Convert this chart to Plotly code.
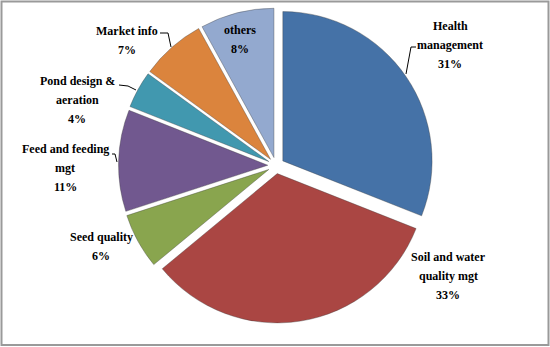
import plotly.graph_objects as go

# Share of training needs by topic (percent)
topics = ["Health management", "Soil and water quality mgt", "Seed quality",
          "Feed and feeding mgt", "Pond design & aeration", "Market info", "others"]
shares = [31, 33, 6, 11, 4, 7, 8]
colors = ["#4572A7", "#AA4643", "#89A54E", "#71588F", "#4198AF", "#DB843D", "#93A9CF"]

W, H = 550, 347


def px(x, y):
    """Convert pixel position to paper coordinates."""
    return x / W, 1 - y / H


# Pie box: centre (276, 165), side 315 px
cx_pie, cy_pie, side = 276, 165.5, 315
dx0, dy1 = px(cx_pie - side / 2, cy_pie - side / 2)
dx1, dy0 = px(cx_pie + side / 2, cy_pie + side / 2)

fig = go.Figure(go.Pie(
    labels=topics,
    values=shares,
    sort=False,
    direction="clockwise",
    rotation=0,
    pull=[0.055] * len(shares),
    marker=dict(colors=colors, line=dict(color="rgba(60,60,60,0.45)", width=0.8)),
    textinfo="none",
    hoverinfo="label+percent",
    domain=dict(x=[dx0, dx1], y=[dy0, dy1]),
    showlegend=False,
))

total = sum(shares)
pct = {t: f"{round(v / total * 100)}%" for t, v in zip(topics, shares)}

# Label text split into lines, with the centre of the first line (pixels)
label_lines = {
    "Health management": (["Health", "management"], (450, 26)),
    "Soil and water quality mgt": (["Soil and water", "quality mgt"], (448, 257)),
    "Seed quality": (["Seed quality"], (101, 237)),
    "Feed and feeding mgt": (["Feed and feeding", "mgt"], (65, 149)),
    "Pond design & aeration": (["Pond design &", "aeration"], (77, 81)),
    "Market info": (["Market info"], (127, 31)),
    "others": (["others"], (240, 30)),
}
line_gap = 18.8

annotations = []
for t in topics:
    lines, (cx, cy) = label_lines[t]
    for i, txt in enumerate(lines + [pct[t]]):
        x, y = px(cx, cy + i * line_gap)
        annotations.append(dict(
            x=x, y=y, xref="paper", yref="paper",
            text="<b>" + txt.replace("&", "&amp;") + "</b>",
            showarrow=False, xanchor="center", yanchor="middle",
            font=dict(family="Liberation Serif, Times New Roman, serif", size=12,
                      color="#000000"),
        ))

# Leader lines from labels to their slices (pixel polylines)
leaders = [
    [(416, 47), (411, 47), (406, 74)],
    [(160, 33), (168, 33), (171, 47)],
    [(119, 85), (128, 86), (136, 90)],
    [(112, 154), (115, 154), (117, 162)],
]
shapes = []
for pts in leaders:
    path = ""
    for j, (x, y) in enumerate(pts):
        xx, yy = px(x, y)
        path += ("M" if j == 0 else "L") + f"{xx},{yy} "
    shapes.append(dict(type="path", path=path.strip(), xref="paper", yref="paper",
                       line=dict(color="#000000", width=1)))

# Chart frame
x0, y0 = px(1.5, 1.5)
x1, y1 = px(548.5, 345)
shapes.append(dict(type="rect", x0=x0, y0=y1, x1=x1, y1=y0, xref="paper", yref="paper",
                   line=dict(color="#9a9a9a", width=2), fillcolor="rgba(0,0,0,0)"))

fig.update_layout(
    width=W, height=H,
    margin=dict(l=0, r=0, t=0, b=0),
    paper_bgcolor="#ffffff",
    plot_bgcolor="#ffffff",
    annotations=annotations,
    shapes=shapes,
)

fig.write_html("out.html")
